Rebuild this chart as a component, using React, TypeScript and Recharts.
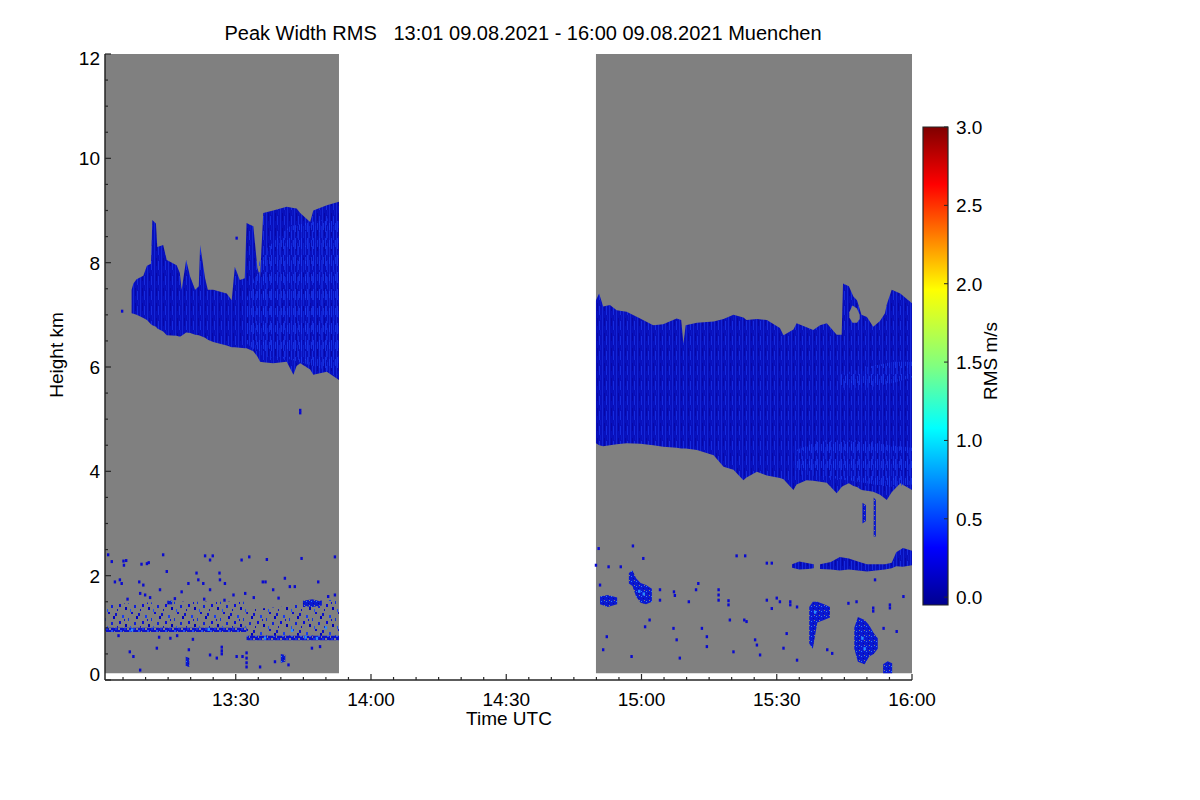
import { ComposedChart, Area, Scatter, XAxis, YAxis, ReferenceArea } from "recharts"

const FONT = '"Liberation Sans", Arial, Helvetica, sans-serif'
const AXIS = "#262626"
const GRAY = "#808080"

// time axis in minutes of the day (UTC), 13:01 .. 16:00
const T_RANGE = [781, 960]
const X_MAJOR = [810, 840, 870, 900, 930, 960]
const X_MINOR = [785, 790, 795, 800, 805, 810, 815, 820, 825, 830, 835, 840, 845, 850, 855, 860, 865, 870, 875, 880, 885, 890, 895, 900, 905, 910, 915, 920, 925, 930, 935, 940, 945, 950, 955, 960]
const H_RANGE = [0, 12]
const Y_MAJOR = [0, 2, 4, 6, 8, 10, 12]
const Y_MINOR = [0, 0.5, 1, 1.5, 2, 2.5, 3, 3.5, 4, 4.5, 5, 5.5, 6, 6.5, 7, 7.5, 8, 8.5, 9, 9.5, 10, 10.5, 11, 11.5, 12]

// colour bar
const RMS_RANGE = [-0.05, 3]
const RMS_TICKS = [0, 0.5, 1, 1.5, 2, 2.5, 3]

// periods with measurements: [time, lowest gate km, top km]
const COVER_1 = [[781, 0.13, 12], [832.9, 0.13, 12]]
const COVER_2 = [[889.9, 0.13, 12], [960, 0.13, 12]]

// cirrus layer before the gap: [time, base km, top km]
const CLOUD_1 = [
  [786.9, 7.03, 7.48], [787.3, 7.02, 7.6], [788.0, 7.0, 7.68], [789.5, 6.94, 7.75], [790.3, 6.9, 7.94],
  [791.2, 6.82, 7.98], [791.5, 6.8, 8.82], [792.3, 6.77, 8.75], [792.6, 6.74, 8.3], [793.9, 6.68, 8.34],
  [794.7, 6.61, 8.05], [796.9, 6.6, 7.95], [797.6, 6.58, 7.8], [798.0, 6.6, 7.48], [799.0, 6.66, 8.05],
  [799.9, 6.65, 7.73], [801.0, 6.62, 7.48], [801.8, 6.61, 7.55], [802.1, 6.6, 8.34], [803.2, 6.56, 7.7],
  [803.8, 6.52, 7.48], [805.0, 6.48, 7.48], [808.0, 6.41, 7.41], [809.1, 6.38, 7.28], [809.8, 6.38, 7.92],
  [810.9, 6.37, 7.67], [812.0, 6.36, 7.7], [812.4, 6.36, 8.76], [813.9, 6.3, 8.7], [814.8, 6.2, 7.9],
  [815.4, 6.1, 7.73], [816.1, 6.09, 8.95], [818.3, 6.07, 9.0], [821.3, 6.1, 9.07], [822.8, 5.85, 9.05],
  [823.5, 6.02, 9.04], [824.3, 6.07, 8.95], [826.5, 5.95, 8.78], [827.2, 5.85, 9.0], [830.2, 5.91, 9.1],
  [832.9, 5.75, 9.17],
]
const CORE_1 = [[812.4, 6.45, 7.3], [816.0, 6.2, 8.2], [822.0, 6.15, 8.7], [828.0, 6.0, 8.8], [832.9, 5.85, 8.9]]

// cirrus layer after the gap
const CLOUD_2 = [
  [889.9, 4.54, 7.28], [890.6, 4.5, 7.41], [891.5, 4.48, 7.16], [893.0, 4.5, 7.19], [894.5, 4.52, 7.09],
  [896.7, 4.54, 7.06], [899.7, 4.53, 6.93], [902.6, 4.5, 6.8], [904.8, 4.47, 6.82], [907.8, 4.45, 6.93],
  [908.8, 4.44, 6.9], [909.3, 4.44, 6.45], [909.8, 4.44, 6.8], [912.3, 4.41, 6.85], [916.0, 4.31, 6.87],
  [918.2, 4.09, 6.92], [920.4, 4.03, 7.0], [922.6, 3.83, 6.95], [923.3, 3.88, 6.9], [925.6, 3.99, 6.92],
  [927.8, 3.92, 6.9], [930.7, 3.87, 6.75], [931.5, 3.85, 6.61], [933.7, 3.64, 6.72], [934.4, 3.75, 6.84],
  [936.6, 3.83, 6.76], [938.1, 3.82, 6.71], [939.6, 3.8, 6.8], [941.1, 3.78, 6.84], [943.3, 3.58, 6.62],
  [944.4, 3.7, 6.62], [944.7, 3.72, 7.6], [946.0, 3.77, 7.55], [947.0, 3.72, 7.35], [947.8, 3.7, 7.28],
  [948.8, 3.64, 7.0], [950.0, 3.63, 6.96], [951.4, 3.61, 6.77], [952.9, 3.55, 6.88], [954.0, 3.48, 7.03],
  [954.4, 3.45, 7.2], [955.5, 3.6, 7.48], [957.4, 3.77, 7.41], [960.0, 3.64, 7.22],
]
const HOLE_2 = [[946.1, 6.95, 7.05], [946.8, 6.85, 7.18], [947.8, 6.85, 7.12], [948.4, 6.92, 7.0]]
const CORE_2A = [[934.0, 3.95, 4.4], [940.0, 3.9, 4.6], [948.0, 3.8, 4.6], [955.0, 3.7, 4.5], [960.0, 3.75, 4.45]]
const CORE_2B = [[944.0, 5.6, 5.85], [950.0, 5.6, 6.0], [956.0, 5.7, 6.1], [960.0, 5.8, 6.1]]
const STREAK_1 = [[949.0, 3.0, 3.4], [949.8, 3.05, 3.35]]
const STREAK_2 = [[951.5, 2.75, 3.5], [952.0, 2.75, 3.45]]

// thin layer at 2.2 km
const LAYER_22A = [[933.4, 2.15, 2.22], [935.0, 2.12, 2.27], [937.0, 2.13, 2.24], [938.2, 2.14, 2.22]]
const LAYER_22B = [
  [939.6, 2.13, 2.22], [942.0, 2.12, 2.26], [944.0, 2.1, 2.36], [946.0, 2.12, 2.33], [948.0, 2.1, 2.27],
  [950.0, 2.08, 2.22], [952.0, 2.1, 2.22], [954.0, 2.12, 2.22], [955.5, 2.14, 2.25], [956.5, 2.18, 2.45],
  [958.0, 2.17, 2.53], [960.0, 2.2, 2.48],
]

// boundary layer returns
const BAND_A_LINE = [[781, 0.92, 1.0], [812.4, 0.92, 1.0]]
const BAND_A_SPECK = [[781, 1.0, 1.45], [795, 1.0, 1.5], [812.4, 1.0, 1.5]]
const BAND_B_LINE = [[812.4, 0.76, 0.85], [832.9, 0.76, 0.85]]
const BAND_B_SPECK = [[812.4, 0.85, 1.35], [820.0, 0.85, 1.4], [826.0, 0.85, 1.5], [832.9, 0.85, 1.55]]

const CLUMP_A = [[897.2, 1.85, 2.05], [898.0, 1.8, 2.1], [898.8, 1.6, 1.95], [899.8, 1.48, 1.86], [901.0, 1.45, 1.82], [902.3, 1.5, 1.75]]
const CLUMP_B = [[890.8, 1.45, 1.6], [892.5, 1.4, 1.63], [894.6, 1.45, 1.58]]
const CLUMP_C = [[937.2, 0.7, 1.4], [938.0, 0.6, 1.5], [939.0, 1.1, 1.5], [940.5, 1.15, 1.45], [941.8, 1.2, 1.4]]
const CLUMP_D = [[947.2, 0.6, 1.0], [948.0, 0.35, 1.21], [949.5, 0.3, 1.15], [950.5, 0.45, 1.05], [951.5, 0.5, 0.9], [952.4, 0.6, 0.8]]
const CLUMP_E = [[953.6, 0.13, 0.3], [954.6, 0.13, 0.36], [955.6, 0.13, 0.32]]
const CLUMP_F = [[798.9, 0.27, 0.45], [799.7, 0.25, 0.42]]
const CLUMP_G = [[820.0, 0.33, 0.5], [821.0, 0.35, 0.48]]
const CLUMP_H = [[824.9, 1.42, 1.52], [827.0, 1.4, 1.55], [829.1, 1.43, 1.5]]
const CLUMP_I = [[794.8, 1.45, 1.52], [795.9, 1.45, 1.52]]

// single returns [time, km]
const SPECKS = [
  [781.7, 2.4], [782.5, 2.27], [785.1, 2.28], [785.7, 2.29], [785.2, 2.2], [789.1, 2.22], [790.3, 2.23], [790.7, 2.25],
  [793.9, 2.4], [803.2, 2.38], [804.9, 2.38], [804.3, 2.3], [811.3, 2.3], [813.0, 2.36], [816.9, 2.31], [824.6, 2.33],
  [832.0, 2.36], [783.2, 1.88], [784.3, 1.92], [784.7, 1.85], [788.6, 1.88], [789.5, 1.82], [788.8, 1.66], [789.9, 1.63],
  [793.2, 1.73], [794.7, 2.08], [798.0, 1.69], [799.5, 1.85], [801.3, 2.05], [801.7, 1.92], [802.8, 1.85], [804.3, 1.73],
  [806.4, 2.05], [806.5, 1.92], [807.6, 1.85], [809.5, 1.63], [812.1, 1.66], [816.0, 1.88], [816.6, 1.88], [818.3, 1.73],
  [820.9, 1.95], [822.0, 1.79], [823.1, 1.79], [828.3, 1.88], [832.0, 1.63], [786.0, 1.55], [791.0, 1.58], [796.5, 1.56],
  [803.0, 1.55], [807.5, 1.53], [814.0, 1.58], [819.5, 1.57], [830.5, 1.6],
  [786.5, 0.54], [787.3, 0.45], [792.5, 0.61], [788.8, 0.19], [799.6, 0.58], [804.3, 0.48], [805.8, 0.42], [806.9, 0.5],
  [806.9, 0.56], [806.9, 0.63], [810.2, 0.45], [811.5, 0.45], [812.4, 0.25], [812.4, 0.33], [812.4, 0.42], [812.4, 0.52],
  [815.4, 0.25], [818.7, 0.35], [821.7, 0.29], [826.9, 0.61], [828.7, 0.64], [793.0, 0.82], [795.5, 0.8], [797.0, 0.85],
  [800.5, 0.78], [784.0, 0.85], [784.8, 7.07], [810.2, 8.47], [824.3, 5.17], [824.3, 5.12],
  [898.1, 2.57], [900.4, 2.33], [892.7, 2.17], [895.4, 2.17], [890.8, 1.82], [912.6, 1.85], [907.2, 1.69], [907.4, 1.62],
  [912.1, 1.73], [917.1, 1.53], [917.1, 1.63], [917.1, 1.73], [919.3, 1.44], [919.3, 1.52], [910.5, 1.5], [904.1, 1.53],
  [904.1, 1.73], [922.8, 1.15], [923.3, 1.12], [921.1, 2.38], [923.0, 2.38], [927.8, 1.53], [930.0, 1.57], [930.7, 1.5],
  [933.0, 1.44], [933.0, 1.5], [934.5, 1.4], [928.9, 1.37], [932.2, 0.89], [925.2, 0.77], [925.6, 0.67], [926.3, 0.48],
  [919.6, 1.15], [913.4, 0.99], [907.1, 0.99], [900.8, 1.02], [901.8, 1.15], [892.3, 0.83], [891.5, 0.58], [897.8, 0.45],
  [907.8, 0.77], [908.5, 0.42], [914.5, 0.83], [914.5, 0.64], [920.4, 0.54], [934.5, 0.38], [931.5, 0.61], [941.2, 0.58],
  [942.3, 0.51], [945.9, 1.47], [947.7, 1.5], [951.4, 1.38], [951.4, 1.32], [955.1, 1.44], [955.1, 1.38], [958.1, 1.6],
  [953.7, 0.99], [956.6, 0.93], [951.8, 1.92], [927.8, 2.24], [928.9, 2.24], [890.5, 2.52], [889.9, 2.2],
]
const BRIGHT_SPECKS = [
  [899.5, 1.7], [900.5, 1.65], [938.5, 1.3], [949.0, 0.8], [949.5, 0.6], [816.5, 0.8], [828.0, 0.8], [825.5, 0.82],
  [822.5, 0.95], [830.0, 1.0], [787.0, 0.96], [804.0, 0.97],
]

const LAYERS = [
  { key: "cover1", pts: COVER_1, fill: GRAY },
  { key: "cover2", pts: COVER_2, fill: GRAY },
  { key: "cloud1", pts: CLOUD_1, fill: "url(#cloudTex)" },
  { key: "core1", pts: CORE_1, fill: "url(#cloudBright)" },
  { key: "cloud2", pts: CLOUD_2, fill: "url(#cloudTex)" },
  { key: "core2a", pts: CORE_2A, fill: "url(#cloudBright)" },
  { key: "core2b", pts: CORE_2B, fill: "url(#cloudBright)" },
  { key: "hole2", pts: HOLE_2, fill: GRAY },
  { key: "streak1", pts: STREAK_1, fill: "url(#clumpTex)" },
  { key: "streak2", pts: STREAK_2, fill: "url(#clumpTex)" },
  { key: "layer22a", pts: LAYER_22A, fill: "url(#cloudTex)" },
  { key: "layer22b", pts: LAYER_22B, fill: "url(#cloudTex)" },
  { key: "bandALine", pts: BAND_A_LINE, fill: "url(#speckLine)" },
  { key: "bandASpeck", pts: BAND_A_SPECK, fill: "url(#speckDense)" },
  { key: "bandBLine", pts: BAND_B_LINE, fill: "url(#speckLine)" },
  { key: "bandBSpeck", pts: BAND_B_SPECK, fill: "url(#speckDense)" },
  { key: "clumpA", pts: CLUMP_A, fill: "url(#clumpTex)" },
  { key: "clumpB", pts: CLUMP_B, fill: "url(#clumpTex)" },
  { key: "clumpC", pts: CLUMP_C, fill: "url(#clumpTex)" },
  { key: "clumpD", pts: CLUMP_D, fill: "url(#clumpTex)" },
  { key: "clumpE", pts: CLUMP_E, fill: "url(#clumpTex)" },
  { key: "clumpF", pts: CLUMP_F, fill: "url(#clumpTex)" },
  { key: "clumpG", pts: CLUMP_G, fill: "url(#clumpTex)" },
  { key: "clumpH", pts: CLUMP_H, fill: "url(#clumpTex)" },
  { key: "clumpI", pts: CLUMP_I, fill: "url(#clumpTex)" },
]

// one table keyed by time, each layer a [base, top] range
const rowMap = new Map<number, any>()
LAYERS.forEach(({ key, pts }) => {
  pts.forEach(([t, lo, hi]) => {
    const row = rowMap.get(t) || { t }
    row[key] = [lo, hi]
    rowMap.set(t, row)
  })
})
const tableData = [...rowMap.values()].sort((a, b) => a.t - b.t)
const speckData = SPECKS.map(([t, v]) => ({ t, v }))
const brightData = BRIGHT_SPECKS.map(([t, v]) => ({ t, v }))
const rmsData = RMS_RANGE.map((v) => ({ v }))

const fmtTime = (t: number) => `${Math.floor(t / 60)}:${String(t % 60).padStart(2, "0")}`

const textStyle = { fontFamily: FONT, fontSize: 19, fill: "#000" }

const BottomTick = (p: any) => {
  const v = p.payload.value
  const major = X_MAJOR.includes(v)
  return (
    <g>
      <line x1={p.x} x2={p.x} y1={p.y} y2={p.y - (major ? 6 : 3)} stroke={AXIS} strokeWidth={1.2} />
      {major && <text x={p.x} y={p.y + 26} textAnchor="middle" {...textStyle}>{fmtTime(v)}</text>}
    </g>
  )
}
const TopTick = (p: any) => {
  const major = X_MAJOR.includes(p.payload.value)
  return <line x1={p.x} x2={p.x} y1={p.y} y2={p.y + (major ? 6 : 3)} stroke={AXIS} strokeWidth={1.2} />
}
const LeftTick = (p: any) => {
  const v = p.payload.value
  const major = Y_MAJOR.includes(v)
  const nudge = v === H_RANGE[0] ? -6 : v === H_RANGE[1] ? 4 : 0
  return (
    <g>
      <line x1={p.x} x2={p.x + (major ? 6 : 3)} y1={p.y} y2={p.y} stroke={AXIS} strokeWidth={1.2} />
      {major && <text x={p.x - 5} y={p.y + 7 + nudge} textAnchor="end" {...textStyle}>{v}</text>}
    </g>
  )
}
const RightTick = (p: any) => {
  const major = Y_MAJOR.includes(p.payload.value)
  return <line x1={p.x} x2={p.x - (major ? 6 : 3)} y1={p.y} y2={p.y} stroke={AXIS} strokeWidth={1.2} />
}
const BarTick = (p: any) => (
  <g>
    <line x1={p.x} x2={p.x - 4} y1={p.y} y2={p.y} stroke={AXIS} strokeWidth={1} />
    <text x={p.x + 8} y={p.y + 7} textAnchor="start" {...textStyle}>{p.payload.value.toFixed(1)}</text>
  </g>
)

const Speck = (p: any) => <rect x={p.cx - 1.2} y={p.cy - 1.5} width={2.4} height={3} fill={p.fill} />

const axisLine = { stroke: AXIS, strokeWidth: 1.5 }

export default function App() {
  return (
    <div style={{ position: "absolute", left: 0, top: 0, width: 1200, height: 800, background: "#fff", fontFamily: FONT }}>
      <div style={{ position: "absolute", left: 523, top: 33, transform: "translate(-50%, -50%)", fontSize: 20, whiteSpace: "pre", lineHeight: "20px" }}>
        Peak Width RMS   13:01 09.08.2021 - 16:00 09.08.2021 Muenchen
      </div>
      <div style={{ position: "absolute", left: 509, top: 719, transform: "translate(-50%, -50%)", fontSize: 19, lineHeight: "20px" }}>
        Time UTC
      </div>
      <div style={{ position: "absolute", left: 57, top: 355, transform: "translate(-50%, -50%) rotate(-90deg)", fontSize: 19, lineHeight: "20px", whiteSpace: "nowrap" }}>
        Height km
      </div>
      <div style={{ position: "absolute", left: 991, top: 361, transform: "translate(-50%, -50%) rotate(-90deg)", fontSize: 19, lineHeight: "20px", whiteSpace: "nowrap" }}>
        RMS m/s
      </div>

      <div style={{ position: "absolute", left: 0, top: 0 }}>
        <ComposedChart width={1200} height={800} data={tableData} margin={{ top: 54, right: 288, bottom: 80, left: 50 }}>
          <defs>
            <pattern id="cloudTex" width={7} height={15} patternUnits="userSpaceOnUse">
              <rect width={7} height={15} fill="#0810bc" />
              <rect x={0} y={0} width={1} height={15} fill="#1426d6" />
              <rect x={2} y={3} width={1} height={8} fill="#0808a6" />
              <rect x={4} y={6} width={1} height={9} fill="#162ce0" />
              <rect x={5} y={0} width={1} height={5} fill="#0c18c8" />
            </pattern>
            <pattern id="cloudBright" width={6} height={17} patternUnits="userSpaceOnUse">
              <rect x={1} y={0} width={1} height={11} fill="#1a3cf4" opacity={0.75} />
              <rect x={3} y={5} width={1} height={12} fill="#1432e8" opacity={0.6} />
              <rect x={5} y={2} width={1} height={7} fill="#2450ff" opacity={0.5} />
            </pattern>
            <pattern id="speckDense" width={23} height={17} patternUnits="userSpaceOnUse">
              <rect x={0} y={1} width={2} height={3} fill="#0c10c8" />
              <rect x={4} y={9} width={2} height={3} fill="#0a0ad8" />
              <rect x={7} y={3} width={2} height={3} fill="#1a3cf0" />
              <rect x={10} y={12} width={2} height={3} fill="#0000b8" />
              <rect x={13} y={6} width={1} height={3} fill="#1030e0" />
              <rect x={16} y={0} width={2} height={2} fill="#0a0ad0" />
              <rect x={19} y={10} width={2} height={3} fill="#1020d8" />
              <rect x={2} y={14} width={1} height={2} fill="#0a0ac8" />
              <rect x={21} y={4} width={2} height={3} fill="#0000c0" />
              <rect x={15} y={14} width={1} height={3} fill="#2050f4" />
              <rect x={9} y={7} width={1} height={2} fill="#0a0ad8" />
            </pattern>
            <pattern id="speckLine" width={9} height={5} patternUnits="userSpaceOnUse">
              <rect width={9} height={5} fill="#0d12c8" />
              <rect x={3} y={0} width={2} height={2} fill="#2a50f0" />
              <rect x={1} y={3} width={2} height={2} fill={GRAY} />
              <rect x={6} y={1} width={1} height={2} fill={GRAY} />
              <rect x={7} y={3} width={2} height={2} fill="#1a30e0" />
            </pattern>
            <pattern id="clumpTex" width={5} height={5} patternUnits="userSpaceOnUse">
              <rect width={5} height={5} fill="#0a18d0" />
              <rect x={1} y={1} width={1} height={1} fill="#2a7cff" />
              <rect x={3} y={3} width={1} height={1} fill="#0a0aa0" />
              <rect x={4} y={0} width={1} height={1} fill={GRAY} />
            </pattern>
          </defs>
          <XAxis
            dataKey="t" type="number" domain={T_RANGE} allowDataOverflow ticks={X_MINOR} interval={0}
            height={40} tickSize={0} tickMargin={0} tickLine={false} axisLine={axisLine} tick={BottomTick}
          />
          <XAxis
            xAxisId="top" orientation="top" type="number" domain={T_RANGE} allowDataOverflow ticks={X_MINOR} interval={0}
            height={0} tickSize={0} tickMargin={0} tickLine={false} axisLine={axisLine} tick={TopTick}
          />
          <YAxis
            type="number" domain={H_RANGE} allowDataOverflow ticks={Y_MINOR} interval={0}
            width={55} tickSize={0} tickMargin={0} tickLine={false} axisLine={axisLine} tick={LeftTick}
          />
          <YAxis
            yAxisId="right" orientation="right" type="number" domain={H_RANGE} allowDataOverflow ticks={Y_MINOR} interval={0}
            width={0} tickSize={0} tickMargin={0} tickLine={false} axisLine={axisLine} tick={RightTick}
          />
          {LAYERS.map((l) => (
            <Area
              key={l.key} dataKey={l.key} type="linear" stroke="none" fill={l.fill} fillOpacity={1}
              connectNulls dot={false} activeDot={false} isAnimationActive={false}
            />
          ))}
          <Scatter data={speckData} dataKey="v" fill="#0a0ad0" shape={Speck} isAnimationActive={false} />
          <Scatter data={brightData} dataKey="v" fill="#2a8cff" shape={Speck} isAnimationActive={false} />
        </ComposedChart>
      </div>

      <div style={{ position: "absolute", left: 0, top: 0 }}>
        <ComposedChart width={1200} height={800} data={rmsData} margin={{ top: 127, right: 207, bottom: 195, left: 923 }}>
          <defs>
            <linearGradient id="jet" x1="0" y1="1" x2="0" y2="0">
              <stop offset="0" stopColor="#00008f" />
              <stop offset="0.12" stopColor="#0000ff" />
              <stop offset="0.37" stopColor="#00ffff" />
              <stop offset="0.5" stopColor="#80ff80" />
              <stop offset="0.66" stopColor="#ffff00" />
              <stop offset="0.88" stopColor="#ff0000" />
              <stop offset="1" stopColor="#800000" />
            </linearGradient>
          </defs>
          <XAxis hide height={0} />
          <YAxis
            orientation="right" type="number" domain={RMS_RANGE} allowDataOverflow ticks={RMS_TICKS} interval={0}
            width={45} tickSize={0} tickMargin={0} tickLine={false} axisLine={false} tick={BarTick}
          />
          <ReferenceArea y1={RMS_RANGE[0]} y2={RMS_RANGE[1]} fill="url(#jet)" fillOpacity={1} stroke={AXIS} strokeWidth={1.2} />
        </ComposedChart>
      </div>
    </div>
  )
}
